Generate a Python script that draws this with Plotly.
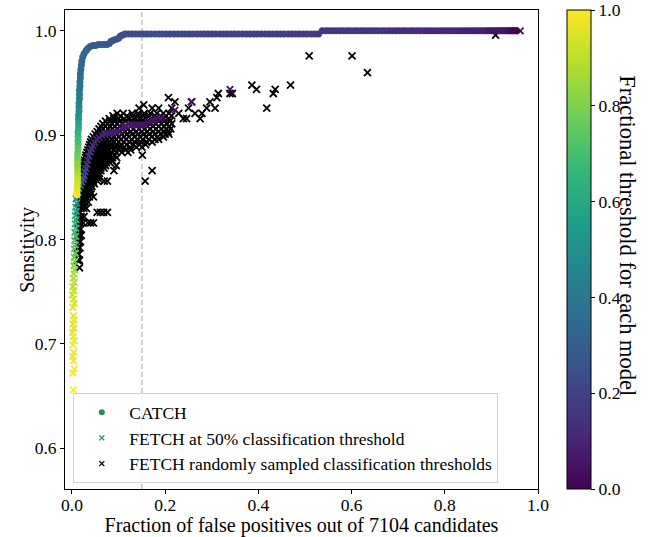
"""ROC-style comparison: CATCH vs FETCH sensitivity against false-positive fraction.

Points are coloured by the fractional classification threshold of each model.
"""

import plotly.graph_objects as go

# ---- data ---------------------------------------------------------------

N_CANDIDATES = 7104
FP_MARK = 0.15  # dashed reference line

# CATCH: fraction of false positives / sensitivity / threshold
CATCH_FP = [
    0.011, 0.011, 0.011, 0.012, 0.012, 0.012, 0.012, 0.012, 0.012, 0.012,
    0.012, 0.013, 0.013, 0.013, 0.013, 0.013, 0.014, 0.014, 0.014, 0.014,
    0.015, 0.015, 0.015, 0.016, 0.016, 0.016, 0.017, 0.017, 0.018, 0.018,
    0.019, 0.020, 0.021, 0.023, 0.026, 0.030, 0.034, 0.039, 0.045, 0.051,
    0.057, 0.063, 0.069, 0.075, 0.080, 0.084, 0.089, 0.095, 0.100, 0.104,
    0.109, 0.114,
    0.121, 0.129, 0.137, 0.145, 0.153, 0.161, 0.169, 0.178, 0.186, 0.194,
    0.202, 0.210, 0.219, 0.227, 0.235, 0.243, 0.251, 0.259, 0.268, 0.276,
    0.284, 0.292, 0.300, 0.308, 0.317, 0.325, 0.333, 0.341, 0.349, 0.357,
    0.366, 0.374, 0.382, 0.390, 0.398, 0.406, 0.415, 0.423, 0.431, 0.439,
    0.447, 0.455, 0.464, 0.472, 0.480, 0.488, 0.496, 0.504, 0.513, 0.521,
    0.529,
    0.537, 0.545, 0.552, 0.560, 0.567, 0.575, 0.582, 0.590, 0.597, 0.605,
    0.612, 0.620, 0.627, 0.635, 0.642, 0.650, 0.657, 0.665, 0.672, 0.680,
    0.687, 0.695, 0.702, 0.710, 0.717, 0.725, 0.732, 0.740, 0.747, 0.755,
    0.762, 0.770, 0.777, 0.785, 0.792, 0.799, 0.806, 0.813, 0.820, 0.827,
    0.834, 0.841, 0.848, 0.855, 0.861, 0.867, 0.873, 0.879, 0.885, 0.890,
    0.895, 0.900, 0.905, 0.910, 0.915, 0.919, 0.923, 0.927, 0.931, 0.935,
    0.939, 0.942, 0.945, 0.948, 0.951, 0.954,
]
CATCH_SENS = [
    0.843, 0.847, 0.851, 0.855, 0.859, 0.863, 0.867, 0.871, 0.875, 0.879,
    0.883, 0.887, 0.891, 0.895, 0.899, 0.903, 0.907, 0.911, 0.915, 0.919,
    0.923, 0.927, 0.931, 0.935, 0.939, 0.943, 0.947, 0.951, 0.955, 0.959,
    0.963, 0.967, 0.971, 0.975, 0.978, 0.981, 0.983, 0.985, 0.986, 0.986,
    0.987, 0.987, 0.987, 0.987, 0.988, 0.990, 0.991, 0.992, 0.993, 0.995,
    0.996, 0.997,
    0.997, 0.997, 0.997, 0.997, 0.997, 0.997, 0.997, 0.997, 0.997, 0.997,
    0.997, 0.997, 0.997, 0.997, 0.997, 0.997, 0.997, 0.997, 0.997, 0.997,
    0.997, 0.997, 0.997, 0.997, 0.997, 0.997, 0.997, 0.997, 0.997, 0.997,
    0.997, 0.997, 0.997, 0.997, 0.997, 0.997, 0.997, 0.997, 0.997, 0.997,
    0.997, 0.997, 0.997, 0.997, 0.997, 0.997, 0.997, 0.997, 0.997, 0.997,
    0.997,
    1.000, 1.000, 1.000, 1.000, 1.000, 1.000, 1.000, 1.000, 1.000, 1.000,
    1.000, 1.000, 1.000, 1.000, 1.000, 1.000, 1.000, 1.000, 1.000, 1.000,
    1.000, 1.000, 1.000, 1.000, 1.000, 1.000, 1.000, 1.000, 1.000, 1.000,
    1.000, 1.000, 1.000, 1.000, 1.000, 1.000, 1.000, 1.000, 1.000, 1.000,
    1.000, 1.000, 1.000, 1.000, 1.000, 1.000, 1.000, 1.000, 1.000, 1.000,
    1.000, 1.000, 1.000, 1.000, 1.000, 1.000, 1.000, 1.000, 1.000, 1.000,
    1.000, 1.000, 1.000, 1.000, 1.000, 1.000,
]
CATCH_THR = [
    1.00, 0.98, 0.96, 0.94, 0.92, 0.89, 0.86, 0.83, 0.81, 0.79,
    0.77, 0.74, 0.72, 0.70, 0.68, 0.65, 0.62, 0.59, 0.55, 0.52,
    0.49, 0.46, 0.44, 0.43, 0.41, 0.40, 0.38, 0.37, 0.36, 0.35,
    0.345, 0.34, 0.335, 0.33, 0.325, 0.32, 0.315, 0.31, 0.305, 0.30,
    0.295, 0.29, 0.285, 0.28, 0.275, 0.27, 0.265, 0.26, 0.255, 0.25,
    0.245, 0.24,
    0.24, 0.24, 0.24, 0.24, 0.24, 0.24, 0.24, 0.24, 0.24, 0.24,
    0.22, 0.22, 0.22, 0.22, 0.22, 0.22, 0.22, 0.22, 0.22, 0.22,
    0.20, 0.20, 0.20, 0.20, 0.20, 0.20, 0.20, 0.20, 0.20, 0.20,
    0.19, 0.19, 0.19, 0.19, 0.19, 0.19, 0.19, 0.19, 0.19, 0.19,
    0.18, 0.18, 0.18, 0.18, 0.18, 0.18, 0.18, 0.18, 0.18, 0.18,
    0.17,
    0.16, 0.16, 0.16, 0.16, 0.16, 0.16, 0.16, 0.16, 0.16, 0.16,
    0.15, 0.15, 0.15, 0.15, 0.15, 0.15, 0.15, 0.15, 0.15, 0.15,
    0.13, 0.13, 0.13, 0.13, 0.13, 0.13, 0.13, 0.13, 0.13, 0.13,
    0.11, 0.11, 0.11, 0.11, 0.11, 0.11, 0.11, 0.11, 0.11, 0.11,
    0.09, 0.09, 0.09, 0.09, 0.09, 0.09, 0.09, 0.09, 0.09, 0.09,
    0.06, 0.06, 0.06, 0.06, 0.06, 0.06, 0.06, 0.06, 0.06, 0.06,
    0.03, 0.03, 0.02, 0.02, 0.01, 0.01,
]

# FETCH at 50% classification threshold
F50_FP = [
    0.003, 0.002, 0.005, 0.003, 0.001, 0.004, 0.002, 0.005, 0.003, 0.001,
    0.004, 0.002, 0.005, 0.003, 0.002, 0.005, 0.003, 0.001, 0.004, 0.002,
    0.005, 0.003, 0.004, 0.006, 0.004, 0.006, 0.005, 0.007, 0.005, 0.007,
    0.006, 0.008, 0.006, 0.008, 0.007, 0.009, 0.007, 0.009, 0.008, 0.010,
    0.009, 0.011,
    0.013, 0.015, 0.018, 0.021, 0.024, 0.026, 0.028, 0.030, 0.032, 0.034,
    0.036, 0.039, 0.042, 0.045, 0.049, 0.053, 0.058, 0.064, 0.070, 0.076,
    0.082, 0.088, 0.094, 0.100, 0.106, 0.111, 0.116, 0.122, 0.128, 0.134,
    0.140, 0.146, 0.152, 0.158, 0.163, 0.168, 0.175, 0.182, 0.189, 0.194,
    0.221, 0.256, 0.339, 0.962,
]
F50_SENS = [
    0.656, 0.672, 0.676, 0.684, 0.688, 0.692, 0.699, 0.703, 0.707, 0.711,
    0.715, 0.719, 0.723, 0.727, 0.735, 0.739, 0.743, 0.747, 0.751, 0.755,
    0.759, 0.763, 0.767, 0.771, 0.775, 0.779, 0.783, 0.787, 0.791, 0.795,
    0.799, 0.803, 0.807, 0.811, 0.815, 0.819, 0.823, 0.827, 0.831, 0.835,
    0.839, 0.842,
    0.845, 0.849, 0.852, 0.855, 0.858, 0.861, 0.865, 0.868, 0.872, 0.876,
    0.880, 0.884, 0.887, 0.890, 0.893, 0.896, 0.898, 0.900, 0.901, 0.902,
    0.902, 0.903, 0.903, 0.904, 0.906, 0.908, 0.909, 0.910, 0.910, 0.910,
    0.910, 0.910, 0.910, 0.910, 0.912, 0.913, 0.914, 0.916, 0.916, 0.917,
    0.924, 0.932, 0.944, 1.000,
]
F50_THR = [
    1.00, 0.99, 0.99, 0.99, 0.98, 0.98, 0.98, 0.97, 0.97, 0.97,
    0.96, 0.96, 0.96, 0.95, 0.95, 0.94, 0.93, 0.92, 0.91, 0.90,
    0.89, 0.88, 0.86, 0.84, 0.82, 0.80, 0.78, 0.77, 0.75, 0.73,
    0.72, 0.70, 0.69, 0.67, 0.66, 0.64, 0.62, 0.60, 0.58, 0.55,
    0.52, 0.48,
    0.44, 0.40, 0.35, 0.31, 0.28, 0.25, 0.23, 0.21, 0.19, 0.17,
    0.16, 0.15, 0.14, 0.13, 0.12, 0.11, 0.10, 0.10, 0.09, 0.09,
    0.08, 0.08, 0.08, 0.07, 0.07, 0.07, 0.07, 0.06, 0.06, 0.06,
    0.06, 0.06, 0.05, 0.05, 0.05, 0.05, 0.05, 0.05, 0.04, 0.04,
    0.04, 0.03, 0.03, 0.01,
]

# FETCH at randomly sampled thresholds, one row per sensitivity level
RAND_ROW_SENS = [
    0.773, 0.780, 0.786, 0.792, 0.798, 0.804, 0.810, 0.816, 0.822, 0.826,
    0.830, 0.836, 0.841, 0.846, 0.851, 0.856, 0.861, 0.866, 0.871, 0.876,
    0.881, 0.886, 0.891, 0.896, 0.901, 0.906, 0.911, 0.916, 0.921, 0.926,
    0.929, 0.932, 0.936, 0.940, 0.944, 0.948, 0.960, 0.976, 0.996,
    0.8435, 0.8485, 0.8535, 0.8585, 0.8635, 0.8685, 0.8735, 0.8785,
    0.8835, 0.8885, 0.8935, 0.8985, 0.9035, 0.9085, 0.9135, 0.9185,
]
RAND_ROW_FP = [
    [0.016],
    [0.012, 0.016],
    [0.011, 0.015],
    [0.012, 0.017],
    [0.013, 0.018],
    [0.012, 0.016, 0.020],
    [0.014, 0.019],
    [0.013, 0.018, 0.024, 0.034, 0.040, 0.046],
    [0.015, 0.020, 0.026],
    [0.017, 0.054, 0.061, 0.068, 0.076],
    [0.014, 0.019, 0.025, 0.031],
    [0.016, 0.022, 0.028, 0.035],
    [0.018, 0.024, 0.030, 0.037, 0.046],
    [0.016, 0.021, 0.027, 0.033, 0.040],
    [0.018, 0.024, 0.030, 0.036, 0.043],
    [0.020, 0.026, 0.032, 0.038, 0.046, 0.055, 0.069, 0.076, 0.157],
    [0.018, 0.024, 0.030, 0.036, 0.042, 0.050, 0.058],
    [0.022, 0.028, 0.034, 0.040, 0.047, 0.055, 0.062, 0.090, 0.172],
    [0.024, 0.030, 0.036, 0.043, 0.050, 0.058, 0.066, 0.072, 0.095],
    [0.027, 0.033, 0.040, 0.047, 0.054, 0.062, 0.070, 0.078, 0.086],
    [0.030, 0.037, 0.044, 0.051, 0.058, 0.066, 0.074, 0.082, 0.092, 0.151],
    [0.034, 0.041, 0.048, 0.056, 0.064, 0.072, 0.080, 0.090, 0.100, 0.115,
     0.126],
    [0.038, 0.045, 0.053, 0.061, 0.069, 0.077, 0.086, 0.095, 0.105, 0.118,
     0.132, 0.145, 0.158],
    [0.042, 0.050, 0.058, 0.067, 0.076, 0.085, 0.095, 0.105, 0.116, 0.128,
     0.140, 0.152, 0.165, 0.178, 0.186],
    [0.050, 0.058, 0.067, 0.076, 0.086, 0.096, 0.107, 0.118, 0.130, 0.142,
     0.154, 0.166, 0.178, 0.190, 0.200, 0.208],
    [0.058, 0.067, 0.077, 0.087, 0.098, 0.109, 0.120, 0.132, 0.144, 0.156,
     0.168, 0.180, 0.192, 0.203, 0.212],
    [0.066, 0.076, 0.086, 0.097, 0.108, 0.120, 0.132, 0.144, 0.156, 0.168,
     0.180, 0.192, 0.203, 0.214],
    [0.080, 0.090, 0.100, 0.112, 0.124, 0.136, 0.148, 0.160, 0.172, 0.184,
     0.196, 0.208, 0.239, 0.246, 0.275],
    [0.097, 0.110, 0.129, 0.142, 0.155, 0.168, 0.182, 0.196, 0.208, 0.229,
     0.264, 0.279],
    [0.144, 0.172, 0.186, 0.214, 0.250, 0.289, 0.307, 0.418],
    [0.154],
    [0.221, 0.257, 0.296],
    [0.207, 0.311],
    [0.314, 0.339, 0.344, 0.432],
    [0.396, 0.436],
    [0.386, 0.469],
    [0.634],
    [0.509, 0.601],
    [0.909],
    # in-between rows of the dense band
    [0.015, 0.019, 0.027, 0.034, 0.041],
    [0.017, 0.021, 0.027, 0.033, 0.039],
    [0.019, 0.023, 0.029, 0.035, 0.041, 0.048],
    [0.019, 0.023, 0.029, 0.035, 0.041, 0.049, 0.057],
    [0.021, 0.025, 0.031, 0.037, 0.044, 0.051, 0.059],
    [0.023, 0.027, 0.033, 0.040, 0.047, 0.054, 0.062, 0.069],
    [0.026, 0.030, 0.037, 0.044, 0.051, 0.058, 0.066, 0.074, 0.082],
    [0.029, 0.034, 0.041, 0.048, 0.055, 0.062, 0.070, 0.078, 0.087, 0.096],
    [0.032, 0.038, 0.045, 0.052, 0.060, 0.068, 0.076, 0.085, 0.095, 0.107,
     0.120],
    [0.036, 0.042, 0.050, 0.058, 0.066, 0.074, 0.083, 0.093, 0.103, 0.112,
     0.125, 0.138, 0.150],
    [0.040, 0.047, 0.055, 0.064, 0.072, 0.081, 0.090, 0.100, 0.111, 0.123,
     0.135, 0.148, 0.160, 0.172],
    [0.046, 0.054, 0.062, 0.071, 0.081, 0.090, 0.100, 0.111, 0.122, 0.134,
     0.146, 0.158, 0.171, 0.184, 0.196],
    [0.054, 0.062, 0.072, 0.082, 0.092, 0.103, 0.114, 0.126, 0.138, 0.150,
     0.162, 0.174, 0.186, 0.197, 0.206],
    [0.062, 0.072, 0.082, 0.092, 0.103, 0.114, 0.126, 0.138, 0.150, 0.162,
     0.174, 0.186, 0.198, 0.209],
    [0.072, 0.081, 0.091, 0.102, 0.114, 0.126, 0.138, 0.150, 0.162, 0.174,
     0.186, 0.198, 0.210],
    [0.088, 0.104, 0.118, 0.130, 0.142, 0.154, 0.166, 0.178, 0.190, 0.202,
     0.214],
]

X_TICKS = [0.0, 0.2, 0.4, 0.6, 0.8, 1.0]
Y_TICKS = [0.6, 0.7, 0.8, 0.9, 1.0]
CB_TICKS = [0.0, 0.2, 0.4, 0.6, 0.8, 1.0]

assert len(CATCH_FP) == len(CATCH_SENS) == len(CATCH_THR)
assert len(F50_FP) == len(F50_SENS) == len(F50_THR)
assert len(RAND_ROW_SENS) == len(RAND_ROW_FP)

rand_fp = [x for row in RAND_ROW_FP for x in row]
rand_sens = [y for y, row in zip(RAND_ROW_SENS, RAND_ROW_FP) for _ in row]

# ---- plot ---------------------------------------------------------------

FONT = "Liberation Serif"
TICK_SIZE = 17.5
TITLE_FONT = dict(family=FONT, size=20, color="black")

fig = go.Figure()

fig.add_trace(go.Scatter(
    x=rand_fp, y=rand_sens, mode="markers", showlegend=False,
    marker=dict(symbol="x-thin", size=7, line=dict(color="black", width=1.8)),
))
fig.add_trace(go.Scatter(
    x=F50_FP, y=F50_SENS, mode="markers", showlegend=False,
    marker=dict(symbol="x-thin", size=6.5,
                line=dict(color=F50_THR, colorscale="Viridis", cmin=0, cmax=1,
                          width=1.7)),
))
fig.add_trace(go.Scatter(
    x=CATCH_FP, y=CATCH_SENS, mode="markers", showlegend=False,
    marker=dict(
        size=7, color=CATCH_THR, colorscale="Viridis", cmin=0, cmax=1,
        line=dict(width=0), showscale=True,
        colorbar=dict(
            thickness=24, len=1, lenmode="fraction", y=0.5, yanchor="middle",
            x=1.061, xanchor="left", xpad=0, ypad=0,
            outlinecolor="black", outlinewidth=1,
            tickvals=CB_TICKS, ticktext=[f"{v:.1f}" for v in CB_TICKS],
            ticks="outside", ticklen=4, tickcolor="black",
            tickfont=dict(family=FONT, size=TICK_SIZE, color="black"),
        ),
    ),
))

# legend-only entries
fig.add_trace(go.Scatter(x=[None], y=[None], mode="markers", name="CATCH",
                         marker=dict(size=6, color="#2e8b57")))
fig.add_trace(go.Scatter(x=[None], y=[None], mode="markers",
                         name="FETCH at 50% classification threshold",
                         marker=dict(symbol="x-thin", size=5,
                                     line=dict(color="#2e8b57", width=1.4))))
fig.add_trace(go.Scatter(x=[None], y=[None], mode="markers",
                         name="FETCH randomly sampled classification thresholds",
                         marker=dict(symbol="x-thin", size=5,
                                     line=dict(color="black", width=1.4))))

fig.add_shape(type="line", x0=FP_MARK, x1=FP_MARK, yref="paper", y0=0, y1=1,
              line=dict(color="#a0a0a0", width=1, dash="5px,3px"), layer="below")

fig.add_annotation(text="Fractional threshold for each model", textangle=90,
                   xref="paper", yref="paper", x=1.19, y=0.528,
                   xanchor="center", yanchor="middle",
                   showarrow=False, font=dict(family=FONT, size=22.5, color="black"))
fig.add_annotation(text="Sensitivity", textangle=-90,
                   xref="paper", yref="paper", x=-0.080, y=0.5,
                   xanchor="center", yanchor="middle",
                   showarrow=False, font=TITLE_FONT)

axis_common = dict(showline=True, linecolor="black", linewidth=1, mirror=True,
                   ticks="outside", ticklen=4, tickcolor="black",
                   showgrid=False, zeroline=False,
                   tickfont=dict(family=FONT, size=TICK_SIZE, color="black"))

fig.update_xaxes(range=[-0.015, 1.0], tickvals=X_TICKS,
                 ticktext=[f"{v:.1f}" for v in X_TICKS], ticklabelstandoff=-4,
                 title=dict(text=f"Fraction of false positives out of {N_CANDIDATES} candidates",
                            font=TITLE_FONT, standoff=0),
                 **axis_common)
fig.update_yaxes(range=[0.561, 1.020], tickvals=Y_TICKS,
                 ticktext=[f"{v:.1f}" for v in Y_TICKS],
                 **axis_common)

fig.update_layout(
    width=649, height=537,
    margin=dict(l=65, r=111, t=10, b=48, autoexpand=False),
    plot_bgcolor="white", paper_bgcolor="white",
    font=dict(family=FONT, size=TICK_SIZE, color="black"),
    legend=dict(x=0.0176, y=0.012, xanchor="left", yanchor="bottom",
                bgcolor="rgba(255,255,255,0.8)", bordercolor="#d0d0d0",
                borderwidth=1, itemwidth=45, tracegroupgap=0,
                font=dict(family=FONT, size=TICK_SIZE, color="black")),
)

# drop the browser's default 8px body margin so the figure fills the window
fig.write_html("out.html", config={"displayModeBar": False},
               post_script="document.body.style.margin = '0';")
